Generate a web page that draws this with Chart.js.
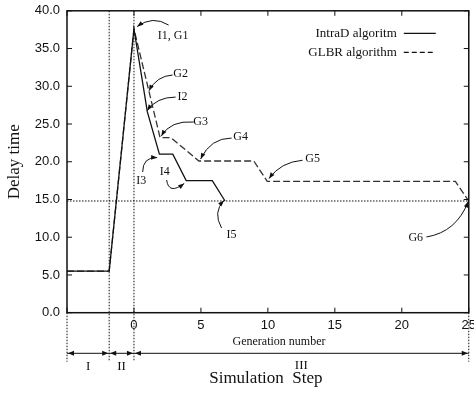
<!DOCTYPE html>
<html>
<head>
<meta charset="utf-8">
<script src="https://cdn.jsdelivr.net/npm/chart.js@4.4.1/dist/chart.umd.min.js"></script>
<style>
body { margin: 0; overflow: hidden; background: #fff; }
canvas { display: block; margin-top: -4px; }
</style>
</head>
<body>
<canvas id="delay-chart" width="481" height="398"></canvas>
<script>
// generation number / delay time
const genIntraD = [-5, -1.85, 0, 1, 1.9, 2.9, 3.9, 5.85, 6.8];
const delayIntraD = [5.5, 5.5, 37.6, 26.6, 21.0, 21.0, 17.5, 17.5, 14.8];
const genGLBR = [-5, -1.85, 0, 1.95, 2.75, 4.85, 8.95, 9.95, 24.0, 25];
const delayGLBR = [5.5, 5.5, 37.6, 23.2, 23.2, 20.1, 20.1, 17.4, 17.4, 14.8];
const threshold = 14.8;
const phaseBounds = [-5, -1.85, 0, 25];
const phaseLabels = ['I', 'II', 'III'];
const seriesNames = ['IntraD algoritm', 'GLBR algorithm'];

// callouts: text centre, arrow start, bend, tip (data units)
const notes = [
    { t: 'I1, G1', at: [2.93, 36.65], from: [2.59, 38.11], via: [1.40, 39.43], to: [0.24, 37.91] },
    { t: 'G2', at: [3.49, 31.6], from: [2.89, 31.5], via: [1.69, 31.35], to: [1.12, 29.4] },
    { t: 'I2', at: [3.63, 28.6], from: [3.11, 28.57], via: [1.69, 28.57], to: [0.99, 26.78] },
    { t: 'G3', at: [4.98, 25.3], from: [4.46, 25.26], via: [2.74, 25.52], to: [2.04, 23.4] },
    { t: 'G4', at: [7.96, 23.31], from: [7.29, 23.14], via: [5.72, 23.14], to: [4.98, 20.36] },
    { t: 'G5', at: [13.34, 20.36], from: [12.59, 20.2], via: [10.95, 19.96], to: [10.09, 17.77] },
    { t: 'I3', at: [0.54, 17.44], from: [0.65, 18.64], via: [0.65, 20.62], to: [1.73, 20.56] },
    { t: 'I4', at: [2.29, 18.64], from: [2.44, 17.58], via: [2.59, 15.59], to: [3.75, 17.11] },
    { t: 'I5', at: [7.29, 10.29], from: [6.54, 11.22], via: [5.87, 13.34], to: [6.72, 14.86] },
    { t: 'G6', at: [21.04, 9.96], from: [21.84, 10.03], via: [24.08, 10.69], to: [24.96, 14.73] }
];

const serif = '"Liberation Serif", "Times New Roman", serif';
const sans = '"Liberation Sans", Arial, sans-serif';

function head(ctx, x0, y0, x1, y1, len, wid) {
    const a = Math.atan2(y1 - y0, x1 - x0);
    ctx.beginPath();
    ctx.moveTo(x1, y1);
    ctx.lineTo(x1 - len * Math.cos(a) + wid * Math.sin(a), y1 - len * Math.sin(a) - wid * Math.cos(a));
    ctx.lineTo(x1 - len * Math.cos(a) - wid * Math.sin(a), y1 - len * Math.sin(a) + wid * Math.cos(a));
    ctx.closePath();
    ctx.fill();
}

const decor = {
    id: 'decor',
    afterDraw(chart) {
        const ctx = chart.ctx;
        const xs = chart.scales.x, ys = chart.scales.y;
        const a = chart.chartArea;
        const X = v => xs.getPixelForValue(v), Y = v => ys.getPixelForValue(v);
        ctx.save();
        ctx.strokeStyle = '#111';
        ctx.fillStyle = '#111';

        // frame + inward ticks
        ctx.lineWidth = 1.5;
        ctx.setLineDash([]);
        ctx.strokeRect(a.left, a.top, a.right - a.left, a.bottom - a.top);
        ctx.lineWidth = 1;
        ctx.beginPath();
        ys.ticks.forEach(t => {
            const y = Y(t.value);
            ctx.moveTo(a.left, y); ctx.lineTo(a.left + 5, y);
            ctx.moveTo(a.right, y); ctx.lineTo(a.right - 5, y);
        });
        xs.ticks.forEach(t => {
            const x = X(t.value);
            ctx.moveTo(x, a.bottom); ctx.lineTo(x, a.bottom - 5);
            ctx.moveTo(x, a.top); ctx.lineTo(x, a.top + 5);
        });
        ctx.stroke();

        // dotted guides
        const lowY = a.bottom + 49;
        ctx.setLineDash([1.5, 1.5]);
        ctx.beginPath();
        ctx.moveTo(a.left, Y(threshold)); ctx.lineTo(a.right, Y(threshold));
        phaseBounds.forEach((b, i) => {
            const inner = i > 0 && i < phaseBounds.length - 1;
            ctx.moveTo(X(b), inner ? a.top : a.bottom);
            ctx.lineTo(X(b), lowY);
        });
        ctx.stroke();
        ctx.setLineDash([]);

        // phase arrows
        const ay = a.bottom + 40.6;
        ctx.beginPath();
        ctx.moveTo(X(phaseBounds[0]), ay); ctx.lineTo(X(phaseBounds[phaseBounds.length - 1]), ay);
        ctx.stroke();
        ctx.font = '13px ' + serif;
        ctx.textAlign = 'center';
        ctx.textBaseline = 'middle';
        for (let i = 0; i < phaseLabels.length; i++) {
            const x0 = X(phaseBounds[i]) + 1, x1 = X(phaseBounds[i + 1]) - 1;
            head(ctx, x0 + 10, ay, x0, ay, 6, 2.5);
            head(ctx, x1 - 10, ay, x1, ay, 6, 2.5);
            ctx.fillText(phaseLabels[i], (x0 + x1) / 2, i === 2 ? ay + 12 : ay + 13.5);
        }

        // axis titles
        ctx.font = '12px ' + serif;
        ctx.fillText('Generation number', 279, a.bottom + 29);
        ctx.font = '17px ' + serif;
        ctx.fillText('Simulation  Step', (a.left + a.right) / 2 - 2, a.bottom + 66);
        ctx.save();
        ctx.translate(15, (a.top + a.bottom) / 2);
        ctx.rotate(-Math.PI / 2);
        ctx.fillText('Delay time', 0, 0);
        ctx.restore();

        // legend
        ctx.font = '13px ' + serif;
        ctx.textAlign = 'right';
        [0, 1].forEach(i => {
            const ly = a.top + 22.5 + i * 19;
            ctx.fillText(seriesNames[i], a.right - 72, ly);
            ctx.lineWidth = 1.2;
            ctx.setLineDash(i ? [5, 3] : []);
            ctx.beginPath();
            ctx.moveTo(a.right - 65, ly); ctx.lineTo(a.right - 33, ly);
            ctx.stroke();
        });
        ctx.setLineDash([]);

        // callouts
        ctx.font = '12px ' + serif;
        ctx.textAlign = 'center';
        ctx.lineWidth = 1;
        notes.forEach(n => {
            ctx.fillText(n.t, X(n.at[0]), Y(n.at[1]));
            const p0 = [X(n.from[0]), Y(n.from[1])], p1 = [X(n.via[0]), Y(n.via[1])], p2 = [X(n.to[0]), Y(n.to[1])];
            ctx.beginPath();
            ctx.moveTo(p0[0], p0[1]);
            ctx.quadraticCurveTo(p1[0], p1[1], p2[0], p2[1]);
            ctx.stroke();
            head(ctx, p1[0], p1[1], p2[0], p2[1], 6, 2.3);
        });
        ctx.restore();
    }
};

new Chart(document.getElementById('delay-chart'), {
    type: 'scatter',
    data: {
        datasets: [{
            label: seriesNames[0],
            data: genIntraD.map((g, i) => ({ x: g, y: delayIntraD[i] })),
            showLine: true,
            borderColor: '#111',
            borderWidth: 1.3,
            pointRadius: 0,
            tension: 0
        }, {
            label: seriesNames[1],
            data: genGLBR.map((g, i) => ({ x: g, y: delayGLBR[i] })),
            showLine: true,
            borderColor: '#333',
            borderWidth: 1.3,
            borderDash: [7, 3],
            pointRadius: 0,
            tension: 0
        }]
    },
    options: {
        responsive: false,
        animation: false,
        devicePixelRatio: 1,
        layout: { padding: { top: 10.5, left: 0, right: 0, bottom: 0 } },
        plugins: { legend: { display: false }, tooltip: { enabled: false } },
        scales: {
            x: {
                type: 'linear', min: -5, max: 25,
                grid: { display: false, drawTicks: false },
                border: { display: false },
                ticks: { stepSize: 5, padding: 5, maxRotation: 0, color: '#111',
                    font: { family: sans, size: 13 },
                    callback: v => v < 0 ? '' : v },
                afterFit: s => { s.height = 81.3; }
            },
            y: {
                min: 0, max: 40,
                grid: { display: false, drawTicks: false },
                border: { display: false },
                ticks: { stepSize: 5, padding: 7, color: '#111',
                    font: { family: sans, size: 13 },
                    callback: v => v.toFixed(1) },
                afterFit: s => { s.width = 67; }
            }
        }
    },
    plugins: [decor]
});
</script>
</body>
</html>
